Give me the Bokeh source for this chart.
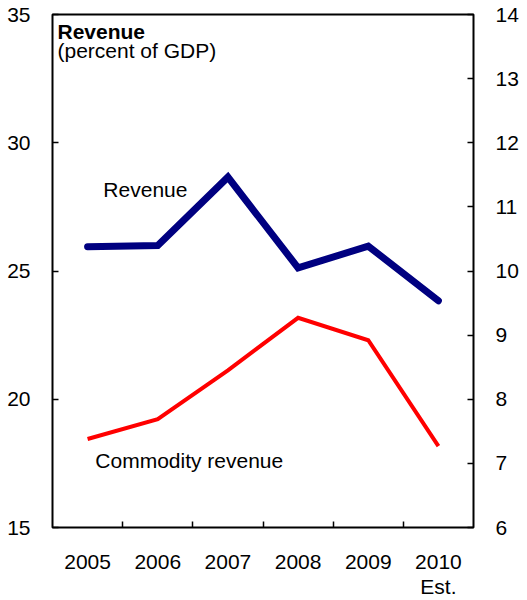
from bokeh.plotting import figure
from bokeh.models import Range1d, LinearAxis, FixedTicker, Label, ColumnDataSource
from bokeh.embed import file_html
from bokeh.resources import INLINE
import numpy as np

years = ["2005", "2006", "2007", "2008", "2009", "2010"]
year_labels = ["2005", "2006", "2007", "2008", "2009", "2010\nEst."]
revenue = [25.95, 25.99, 28.66, 25.12, 25.97, 23.84]          # left axis, percent of GDP
commodity_revenue = [7.38, 7.69, 8.45, 9.27, 8.92, 7.27]      # right axis, percent of GDP
left_ticks = [15, 20, 25, 30, 35]
right_ticks = [6, 7, 8, 9, 10, 11, 12, 13, 14]

FONT = "Liberation Sans"
FS = "21px"
xpos = list(np.arange(len(years)) + 0.5)

p = figure(width=521, height=600, output_backend="svg", toolbar_location=None,
           x_range=Range1d(0, len(years)), y_range=Range1d(15, 35),
           min_border_left=52, min_border_right=47, min_border_top=14, min_border_bottom=73)
p.extra_y_ranges = {"right": Range1d(6, 14)}
p.xgrid.visible = False
p.ygrid.visible = False
p.outline_line_color = "black"
p.outline_line_width = 2
p.background_fill_color = "white"
p.border_fill_color = "white"

src = ColumnDataSource(dict(x=xpos, rev=revenue, com=commodity_revenue))
p.line("x", "rev", source=src, line_color="#000080", line_width=7, line_cap="round", line_join="miter")
p.line("x", "com", source=src, line_color="#FF0000", line_width=4, line_join="miter", y_range_name="right")

# bottom axis
xa = p.xaxis[0]
xa.ticker = FixedTicker(ticks=xpos, minor_ticks=list(np.arange(1, len(years))))
xa.major_label_overrides = {float(x): lab for x, lab in zip(xpos, year_labels)}
xa.major_tick_in = 0
xa.major_tick_out = 0
xa.minor_tick_in = 6
xa.minor_tick_out = 0
xa.minor_tick_line_color = "black"
xa.minor_tick_line_width = 1.5
xa.axis_line_color = None
xa.major_label_text_font = FONT
xa.major_label_text_font_size = FS
xa.major_label_text_color = "black"
xa.major_label_text_line_height = 1.1
xa.major_label_standoff = 22

# left axis
ya = p.yaxis[0]
ya.ticker = FixedTicker(ticks=left_ticks)
ya.major_tick_in = 6
ya.major_tick_out = 0
ya.minor_tick_line_color = None
ya.major_tick_line_color = "black"
ya.major_tick_line_width = 1.5
ya.axis_line_color = None
ya.major_label_text_font = FONT
ya.major_label_text_font_size = FS
ya.major_label_text_color = "black"
ya.major_label_standoff = 22

# right axis
ra = LinearAxis(y_range_name="right", ticker=FixedTicker(ticks=right_ticks))
ra.major_tick_in = 6
ra.major_tick_out = 0
ra.minor_tick_line_color = None
ra.major_tick_line_color = "black"
ra.major_tick_line_width = 1.5
ra.axis_line_color = None
ra.major_label_text_font = FONT
ra.major_label_text_font_size = FS
ra.major_label_text_color = "black"
ra.major_label_standoff = 22
p.add_layout(ra, "right")

p.add_layout(Label(x=0, y=35, x_offset=5, y_offset=-5, text="Revenue", text_font=FONT,
                   text_font_size=FS, text_font_style="bold", text_baseline="top", text_color="black"))
p.add_layout(Label(x=0, y=35, x_offset=5, y_offset=-24, text="(percent of GDP)", text_font=FONT,
                   text_font_size=FS, text_baseline="top", text_color="black"))
p.add_layout(Label(x=0.725, y=28.18, text="Revenue", text_font=FONT,
                   text_font_size=FS, text_baseline="middle", text_color="black"))
p.add_layout(Label(x=0.61, y=17.61, text="Commodity revenue", text_font=FONT,
                   text_font_size=FS, text_baseline="middle", text_color="black"))

open("out.html", "w").write(file_html(p, INLINE))
